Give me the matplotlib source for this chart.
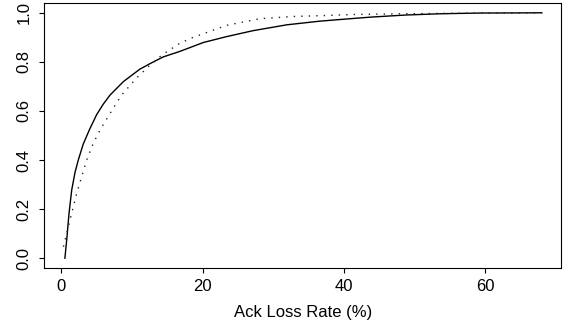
import numpy as np
import matplotlib
matplotlib.use("Agg")
import matplotlib.pyplot as plt

# empirical CDF (solid)
emp_x = [0.5, 0.52, 0.76, 1.09, 1.47, 1.94, 2.4, 3.1, 4.0, 5.0, 5.94, 6.9, 8.8,
         11.1, 12.5, 14.4, 16.8, 20.1, 23.4, 27.1, 31.9, 36.6, 41.8, 44.1, 48.8,
         53.5, 59.2, 68.0]
emp_y = [0.0, 0.004, 0.074, 0.183, 0.278, 0.35, 0.40, 0.465, 0.525, 0.585, 0.628,
         0.665, 0.72, 0.77, 0.792, 0.82, 0.843, 0.879, 0.903, 0.927, 0.951, 0.966,
         0.978, 0.983, 0.991, 0.996, 0.999, 1.0]

# fitted CDF (dotted)
fit_x = [0.3, 1.23, 1.7, 2.17, 2.88, 3.59, 4.52, 5.47, 6.9, 8.5, 10.7, 12.5, 14.2,
         16.5, 18.2, 23.4, 28.1, 32.8, 37.5, 41.3, 48.0, 55.0, 62.0, 68.0]
fit_y = [0.047, 0.156, 0.21, 0.264, 0.332, 0.40, 0.468, 0.522, 0.59, 0.664, 0.736,
         0.786, 0.827, 0.871, 0.895, 0.949, 0.976, 0.985, 0.989, 0.993, 0.996,
         0.998, 0.999, 1.0]

x_ticks = [0, 20, 40, 60]
y_ticks = [0.0, 0.2, 0.4, 0.6, 0.8, 1.0]
x_label = "Ack Loss Rate (%)"

plt.rcParams['font.family'] = ['Liberation Sans', 'DejaVu Sans']

fig = plt.figure(figsize=(5.63, 3.24), dpi=100)
ax = fig.add_axes([0.0787, 0.1728, 0.9177, 0.818])

ax.plot(emp_x, emp_y, color="black", lw=1.0, solid_joinstyle="round")
ax.plot(fit_x, fit_y, color="#222222", lw=1.0, linestyle=(0, (1, 4.4)))

# R-style 4% padding
x0, x1 = 0.3, 68.0
y0, y1 = 0.0, 1.0
ax.set_xlim(x0 - 0.04 * (x1 - x0), x1 + 0.04 * (x1 - x0))
ax.set_ylim(y0 - 0.04 * (y1 - y0), y1 + 0.04 * (y1 - y0))

ax.set_xticks(x_ticks)
ax.set_xticklabels([str(t) for t in x_ticks])
ax.set_yticks(y_ticks)
ax.set_yticklabels(["%.1f" % t for t in y_ticks], rotation=90, va="center")
ax.tick_params(axis="both", direction="out", length=3.6, width=0.8,
               labelsize=12, color="black")
ax.tick_params(axis="x", pad=4.5)
ax.tick_params(axis="y", pad=5.5)
ax.set_xlabel(x_label, fontsize=12, labelpad=8)

for s in ax.spines.values():
    s.set_linewidth(0.8)
    s.set_color("black")

fig.savefig("out.png", dpi=100)
